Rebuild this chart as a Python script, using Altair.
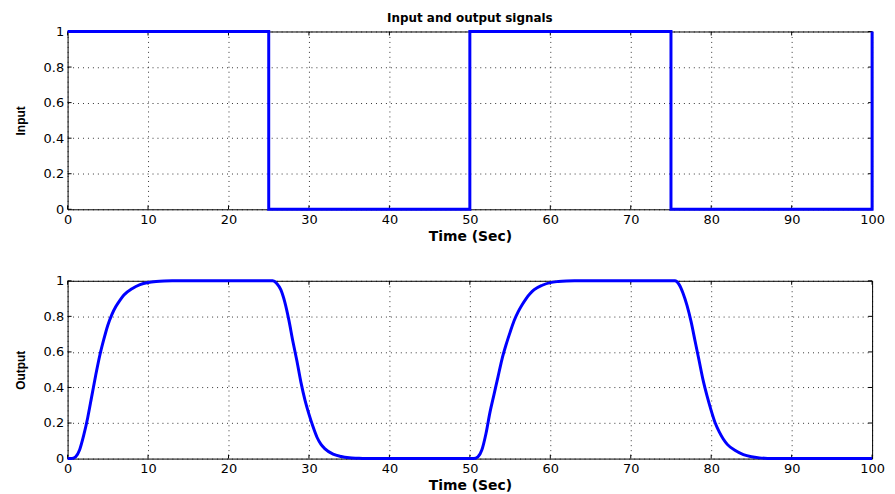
import altair as alt
import pandas as pd

# Input signal (square wave), step-after
input_t = [0, 25, 50, 75, 100]
input_v = [1, 0, 1, 0, 1]

# Output signal
output_t = [0, 0.5, 1.0, 1.5, 2.0, 2.5, 3.0, 3.5, 4.0, 4.5, 5.0, 5.5, 6.0, 6.5, 7.0, 8.0, 9.0,
            10.0, 11.0, 12.0, 13.0, 25.5, 26.0, 26.5, 27.0, 27.5, 28.0, 28.5, 29.0, 29.5,
            30.0, 30.5, 31.0, 31.5, 32.0, 33.0, 34.0, 35.0, 36.0, 37.0, 50.5, 51.0, 51.5,
            52.0, 52.5, 53.0, 53.5, 54.0, 54.5, 55.0, 55.5, 56.0, 56.5, 57.0, 57.5, 58.0,
            59.0, 60.0, 61.0, 62.0, 63.0, 75.5, 76.0, 76.5, 77.0, 77.5, 78.0, 78.5, 79.0,
            79.5, 80.0, 80.5, 81.0, 81.5, 82.0, 83.0, 84.0, 85.0, 86.0, 87.0, 88.0, 100.0]
output_v = [0, 0.0, 0.01, 0.05, 0.13, 0.23, 0.35, 0.47, 0.58, 0.67, 0.75, 0.81, 0.855, 0.89,
            0.92, 0.955, 0.978, 0.99, 0.996, 0.999, 1.0, 1.0, 0.985, 0.95, 0.88, 0.78, 0.66,
            0.55, 0.43, 0.33, 0.25, 0.18, 0.12, 0.08, 0.055, 0.025, 0.012, 0.005, 0.002, 0.0,
            0.0, 0.01, 0.05, 0.14, 0.26, 0.36, 0.46, 0.56, 0.64, 0.71, 0.775, 0.825, 0.865,
            0.9, 0.928, 0.95, 0.975, 0.99, 0.996, 0.999, 1.0, 1.0, 0.98, 0.93, 0.86, 0.77,
            0.66, 0.55, 0.44, 0.35, 0.27, 0.2, 0.15, 0.11, 0.08, 0.045, 0.022, 0.01, 0.004,
            0.001, 0.0, 0.0]

x_ticks = [0, 10, 20, 30, 40, 50, 60, 70, 80, 90, 100]
y_ticks = [0, 0.2, 0.4, 0.6, 0.8, 1.0]

W, H = 810, 179
TICK = 4

x_axis = alt.Axis(values=x_ticks, title="Time (Sec)", labelFlush=False, labelOverlap=False,
                  ticks=False, domain=False, labelPadding=4, titlePadding=3,
                  labelFont="DejaVu Sans", labelFontSize=13, labelColor="black",
                  titleFont="DejaVu Sans", titleFontSize=14, titleFontWeight="bold",
                  titleColor="black", gridColor="black", gridDash=[1, 4], gridOpacity=0.8)


def y_axis(title):
    return alt.Axis(values=y_ticks, title=title, format="~g", labelOverlap=False,
                    ticks=False, domain=False, labelPadding=4, titlePadding=16,
                    labelFont="DejaVu Sans", labelFontSize=13, labelColor="black",
                    titleFont="Liberation Sans", titleFontSize=12, titleFontWeight="bold",
                    titleColor="black", gridColor="black", gridDash=[1, 4], gridOpacity=0.8)


xscale = alt.Scale(domain=[0, 100], nice=False, zero=False)
yscale = alt.Scale(domain=[0, 1], nice=False)

xt_df = pd.DataFrame({"t": x_ticks})
yt_df = pd.DataFrame({"v": y_ticks})


def panel(df, ytitle, interp):
    line = alt.Chart(df).mark_line(color="#0000ff", strokeWidth=3, interpolate=interp,
                                   clip=False).encode(
        x=alt.X("t:Q", scale=xscale, axis=x_axis),
        y=alt.Y("v:Q", scale=yscale, axis=y_axis(ytitle)),
    )
    xb = alt.Chart(xt_df).mark_rule(color="black", strokeWidth=1).encode(
        x=alt.X("t:Q", scale=xscale, axis=x_axis), y=alt.value(H), y2=alt.value(H - TICK))
    xtop = alt.Chart(xt_df).mark_rule(color="black", strokeWidth=1).encode(
        x=alt.X("t:Q", scale=xscale, axis=x_axis), y=alt.value(0), y2=alt.value(TICK))
    yl = alt.Chart(yt_df).mark_rule(color="black", strokeWidth=1).encode(
        y=alt.Y("v:Q", scale=yscale, axis=y_axis(ytitle)), x=alt.value(0), x2=alt.value(TICK))
    yr = alt.Chart(yt_df).mark_rule(color="black", strokeWidth=1).encode(
        y=alt.Y("v:Q", scale=yscale, axis=y_axis(ytitle)), x=alt.value(W), x2=alt.value(W - TICK))
    return alt.layer(xb, xtop, yl, yr, line).properties(width=W, height=H)


top_df = pd.DataFrame({"t": input_t, "v": input_v})
bot_df = pd.DataFrame({"t": output_t, "v": output_v})

top = panel(top_df, "Input", "step-after").properties(
    title=alt.TitleParams("Input and output signals", font="DejaVu Sans", fontSize=12,
                          fontWeight="bold", color="black", anchor="middle", offset=1))
bottom = panel(bot_df, "Output", "monotone")

chart = alt.vconcat(top, bottom, spacing=30).properties(
    padding={"left": 5, "top": 1, "right": 2, "bottom": 0},
    background="white",
).configure_view(stroke="black", strokeWidth=1)

chart.save("out.html", embed_options={"renderer": "svg", "actions": False})
